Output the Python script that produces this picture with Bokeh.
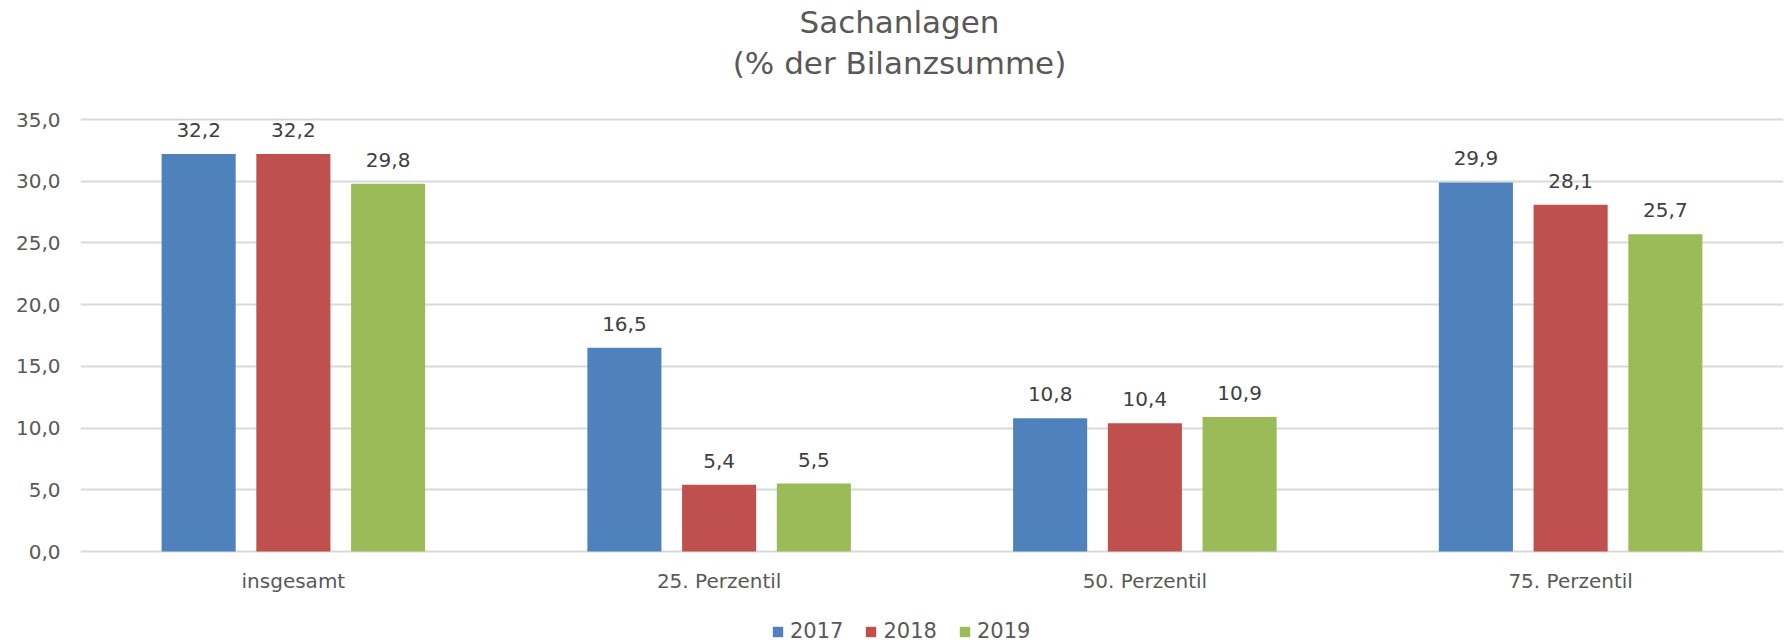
from bokeh.plotting import figure
from bokeh.models import (ColumnDataSource, Range1d, FactorRange, LabelSet, Label,
                          Legend, LegendItem, FixedTicker, Grid)
from bokeh.core.properties import value
from bokeh.transform import dodge
from bokeh.embed import file_html
from bokeh.resources import INLINE

categories = ["insgesamt", "25. Perzentil", "50. Perzentil", "75. Perzentil"]
years = ["2017", "2018", "2019"]
v2017 = [32.2, 16.5, 10.8, 29.9]
v2018 = [32.2, 5.4, 10.4, 28.1]
v2019 = [29.8, 5.5, 10.9, 25.7]
y_ticks = [0, 5, 10, 15, 20, 25, 30, 35]
title_lines = ["Sachanlagen", "(% der Bilanzsumme)"]

colors = ["#4F81BD", "#C0504D", "#9BBB59"]
FONT = "DejaVu Sans"

def fmt(v):
    return f"{v:.1f}".replace(".", ",")

# layout geometry (pixels within the figure)
FIG_W, FIG_H = 1787, 643
LEFT, RIGHT = 80, 4            # frame borders
PX_Y0, PX_YTOP = 551, 119      # pixel rows of value 0 and of the top tick
px_per_unit = (PX_Y0 - PX_YTOP) / y_ticks[-1]
y_start = -(FIG_H - PX_Y0) / px_per_unit
y_end = y_ticks[-1] + PX_YTOP / px_per_unit

src = ColumnDataSource(dict(
    cat=categories,
    zero=[0] * len(categories),
    v2017=v2017, v2018=v2018, v2019=v2019,
    l2017=[fmt(v) for v in v2017],
    l2018=[fmt(v) for v in v2018],
    l2019=[fmt(v) for v in v2019],
))

p = figure(frame_width=FIG_W - LEFT - RIGHT, frame_height=FIG_H,
           output_backend="svg", toolbar_location=None,
           x_range=FactorRange(*categories, range_padding=0),
           y_range=Range1d(y_start, y_end),
           x_axis_location=None,
           min_border_left=LEFT, min_border_right=RIGHT, min_border_top=0,
           min_border_bottom=0)
p.outline_line_color = None
p.background_fill_color = "white"
p.border_fill_color = "white"

offsets = [-0.2225, 0.0, 0.2225]
bar_w = 0.174
items = []
for yr, off, col in zip(years, offsets, colors):
    r = p.vbar(x=dodge("cat", off, range=p.x_range), top="v" + yr, bottom=0,
               width=bar_w, source=src, fill_color=col, line_color=None)
    items.append(LegendItem(label=yr, renderers=[r]))
    p.add_layout(LabelSet(x=dodge("cat", off, range=p.x_range), y="v" + yr,
                          text="l" + yr, source=src, text_align="center",
                          text_baseline="alphabetic", y_offset=17,
                          text_font=value(FONT), text_font_size="20px",
                          text_color="#404040"))

# category labels below the zero line
p.add_layout(LabelSet(x="cat", y="zero", text="cat", source=src,
                      text_align="center", text_baseline="alphabetic",
                      y_offset=-36, text_font=value(FONT), text_font_size="20px",
                      text_color="#595959"))

# y axis
p.yaxis.ticker = FixedTicker(ticks=y_ticks)
p.yaxis.major_label_overrides = {t: fmt(t) for t in y_ticks}
ax = p.yaxis[0]
ax.axis_line_color = None
ax.major_tick_line_color = None
ax.minor_tick_line_color = None
ax.major_label_text_font = FONT
ax.major_label_text_font_size = "20px"
ax.major_label_text_color = "#595959"
ax.major_label_standoff = 14

for g in p.select(type=Grid):
    if g.dimension == 0:
        g.visible = False
    else:
        g.grid_line_color = "#D9D9D9"
        g.grid_line_width = 2

# title
for i, t in enumerate(title_lines):
    p.add_layout(Label(x=819, y=FIG_H - 21 - 41 * i, x_units="screen",
                       y_units="screen", text=t, text_align="center",
                       text_baseline="alphabetic", text_font=FONT,
                       text_font_size="31px", text_color="#595959"))

legend = Legend(items=items, orientation="horizontal", location=(691, 0),
                glyph_width=13, glyph_height=13, label_standoff=6, spacing=21,
                padding=0, margin=0, border_line_color=None,
                background_fill_alpha=0, label_text_font=FONT,
                label_text_font_size="21px", label_text_color="#595959",
                label_height=13)
p.add_layout(legend, "center")

open("out.html", "w").write(file_html(p, INLINE))
